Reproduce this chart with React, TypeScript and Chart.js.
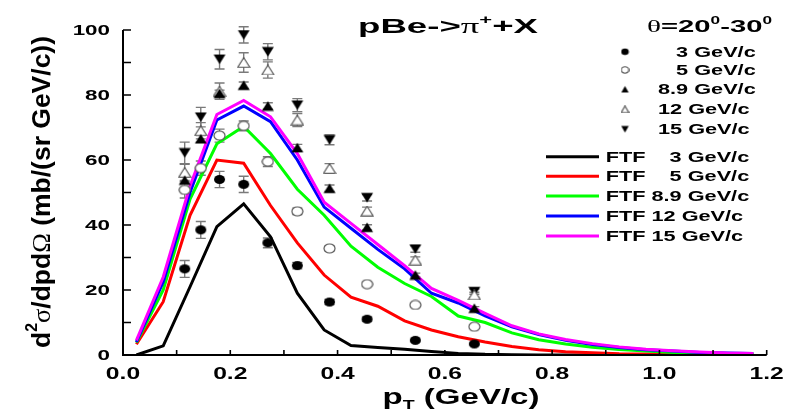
import React, { useEffect, useRef } from 'react';
import { Chart, registerables } from 'chart.js';

Chart.register(...registerables);

// Beam momenta (GeV/c)
const momenta = ['3', '5', '8.9', '12', '15'];

// Measured pT bin centres (GeV/c)
const ptData = [0.115, 0.145, 0.18, 0.225, 0.27, 0.325, 0.385, 0.455, 0.545, 0.655];

// Measured cross sections, mb/(sr GeV/c), with errors
const data3 = [26.5, 38.5, 54.0, 52.5, 34.5, 27.5, 16.3, 11.0, 4.5, 3.4];
const err3 = [2.6, 2.6, 2.5, 2.5, 1.5, 1.0, 0.8, 0.6, 0.4, 0.3];
const data5 = [50.8, 57.5, 67.5, 70.5, 59.5, 44.2, 32.8, 21.8, 15.4, 8.7];
const err5 = [2.5, 2.2, 2.0, 1.5, 1.5, 1.0, 0.8, 0.6, 0.5, 0.5];
const data89 = [53.8, 66.5, 80.5, 83.0, 76.6, 63.8, 51.3, 39.3, 24.6, 14.4];
const err89 = [1.0, 1.0, 1.0, 1.0, 1.0, 1.0, 1.0, 0.8, 0.6, 0.5];
const data12 = [56.2, 69.0, 81.2, 90.0, 87.7, 72.3, 57.4, 44.3, 29.2, 18.5];
const err12 = [2.5, 2.5, 2.5, 3.0, 2.5, 2.0, 1.5, 1.2, 1.0, 0.8];
const data15 = [62.2, 73.2, 91.0, 98.5, 93.3, 76.9, 66.2, 48.4, 32.6, 19.5];
const err15 = [3.3, 3.0, 3.0, 2.5, 2.5, 2.0, 1.5, 1.0, 1.0, 0.8];

// FTF model pT grid (GeV/c)
const ptModel = [
  0.025, 0.075, 0.125, 0.175, 0.225, 0.275, 0.325, 0.375, 0.425, 0.475, 0.525, 0.575,
  0.625, 0.675, 0.725, 0.775, 0.825, 0.875, 0.925, 0.975, 1.025, 1.075, 1.125, 1.175,
];
const ftf3 = [0, 2.8, 21, 39.5, 46.5, 36.4, 19, 7.7, 2.9, 2.3, 1.8, 1.1, 0.5, 0.2, 0.1, 0, 0, 0, 0, 0, 0, 0, 0, 0];
const ftf5 = [3.3, 16.4, 43, 60, 59, 46, 34.5, 24.6, 17.8, 15, 10.5, 7.7, 5.6, 4.0, 2.6, 1.6, 1.0, 0.7, 0.4, 0.3, 0.2, 0.1, 0.1, 0.1];
const ftf89 = [3.8, 20, 48, 65, 70.3, 62, 51, 43, 33.5, 27, 22, 18, 12, 10, 6.8, 4.7, 3.4, 2.4, 1.7, 1.2, 0.8, 0.6, 0.5, 0.4];
const ftf12 = [4, 22.5, 50, 72.3, 76.6, 71.8, 60, 45.5, 39, 32.5, 26.5, 19, 16, 12, 8.7, 6.3, 4.5, 3.2, 2.3, 1.6, 1.2, 0.8, 0.6, 0.5];
const ftf15 = [4.5, 24, 52, 74, 78.3, 73.3, 62, 47, 40.5, 34, 27.5, 20.5, 16.8, 12.8, 9, 6.5, 4.8, 3.5, 2.5, 1.8, 1.3, 0.9, 0.6, 0.5];

// Axis ticks
const xMajorTicks = [0, 0.2, 0.4, 0.6, 0.8, 1.0, 1.2];
const xMinorTicks = [0.1, 0.3, 0.5, 0.7, 0.9, 1.1];
const yMajorTicks = [0, 20, 40, 60, 80, 100];
const yMinorTicks = [10, 30, 50, 70, 90];

const measured = [data3, data5, data89, data12, data15];
const measuredErr = [err3, err5, err89, err12, err15];
const model = [ftf3, ftf5, ftf89, ftf12, ftf15];
const modelColors = ['#000000', '#ff0000', '#00ff00', '#0000ff', '#ff00ff'];
const markerKinds = ['dot', 'ring', 'up', 'upOpen', 'down'];

const SANS = '"Liberation Sans", Arial, sans-serif';
const SERIF = '"Liberation Serif", "DejaVu Serif", serif';
const bold = (px: number) => `bold ${px}px ${SANS}`;
const greek = (px: number) => `${px}px ${SERIF}`;

function makeMarker(kind: string, w: number, h: number): HTMLCanvasElement {
  const c = document.createElement('canvas');
  c.width = w + 2;
  c.height = h + 2;
  const g = c.getContext('2d')!;
  const cx = c.width / 2;
  const cy = c.height / 2;
  g.beginPath();
  if (kind === 'dot' || kind === 'ring') {
    g.ellipse(cx, cy, w / 2, h / 2, 0, 0, Math.PI * 2);
  } else if (kind === 'up' || kind === 'upOpen') {
    g.moveTo(cx, cy - h / 2);
    g.lineTo(cx + w / 2, cy + h / 2);
    g.lineTo(cx - w / 2, cy + h / 2);
    g.closePath();
  } else {
    g.moveTo(cx - w / 2, cy - h / 2);
    g.lineTo(cx + w / 2, cy - h / 2);
    g.lineTo(cx, cy + h / 2);
    g.closePath();
  }
  if (kind === 'ring' || kind === 'upOpen') {
    g.fillStyle = '#ffffff';
    g.fill();
    g.strokeStyle = '#555555';
    g.lineWidth = 1.2;
    g.stroke();
  } else {
    g.fillStyle = '#000000';
    g.fill();
  }
  return c;
}

type Run = { t: string; font: string; dy?: number };

function drawRich(
  ctx: CanvasRenderingContext2D,
  runs: Run[],
  x: number,
  y: number,
  opts: { align?: 'left' | 'center' | 'right'; sx?: number; sy?: number; width?: number; rotate?: boolean } = {}
) {
  let natural = 0;
  for (const r of runs) {
    ctx.font = r.font;
    natural += ctx.measureText(r.t).width;
  }
  const sx = opts.width ? opts.width / natural : opts.sx ?? 1;
  const sy = opts.sy ?? 1;
  const total = natural * sx;
  const align = opts.align ?? 'left';
  const start = align === 'left' ? 0 : align === 'center' ? -total / 2 : -total;
  ctx.save();
  ctx.translate(x, y);
  if (opts.rotate) ctx.rotate(-Math.PI / 2);
  ctx.scale(sx, sy);
  ctx.textAlign = 'left';
  ctx.textBaseline = 'alphabetic';
  ctx.fillStyle = '#000000';
  let cx = start / sx;
  for (const r of runs) {
    ctx.font = r.font;
    ctx.fillText(r.t, cx, r.dy ?? 0);
    cx += ctx.measureText(r.t).width;
  }
  ctx.restore();
}

const errorBars = {
  id: 'errorBars',
  beforeDatasetsDraw(chart: any) {
    const ctx = chart.ctx as CanvasRenderingContext2D;
    const xs = chart.scales.x;
    const ys = chart.scales.y;
    ctx.save();
    ctx.strokeStyle = '#7a7a7a';
    ctx.lineWidth = 1.4;
    measured.forEach((vals, s) => {
      vals.forEach((v, i) => {
        const e = measuredErr[s][i];
        const px = xs.getPixelForValue(ptData[i]);
        const top = ys.getPixelForValue(v + e);
        const bot = ys.getPixelForValue(v - e);
        ctx.beginPath();
        ctx.moveTo(px, top);
        ctx.lineTo(px, bot);
        ctx.moveTo(px - 5, top);
        ctx.lineTo(px + 5, top);
        ctx.moveTo(px - 5, bot);
        ctx.lineTo(px + 5, bot);
        ctx.stroke();
      });
    });
    ctx.restore();
  },
};

const frame = {
  id: 'frame',
  afterDraw(chart: any) {
    const ctx = chart.ctx as CanvasRenderingContext2D;
    const xs = chart.scales.x;
    const ys = chart.scales.y;
    const { left, right, top, bottom } = chart.chartArea;
    ctx.save();
    ctx.strokeStyle = '#000000';
    ctx.lineWidth = 2;
    ctx.beginPath();
    ctx.moveTo(left, top);
    ctx.lineTo(left, bottom);
    ctx.lineTo(right, bottom);
    ctx.stroke();
    ctx.lineWidth = 1.6;
    ctx.beginPath();
    for (const v of yMajorTicks.concat(yMinorTicks)) {
      const py = ys.getPixelForValue(v);
      ctx.moveTo(left, py);
      ctx.lineTo(left + 8, py);
    }
    for (const v of xMajorTicks.concat(xMinorTicks)) {
      const px = xs.getPixelForValue(v);
      ctx.moveTo(px, bottom);
      ctx.lineTo(px, bottom - 5);
    }
    ctx.stroke();

    // tick labels
    for (const v of yMajorTicks) {
      drawRich(ctx, [{ t: String(v), font: bold(14) }], left - 13, ys.getPixelForValue(v) + 5, { align: 'right', sx: 1.6 });
    }
    for (const v of xMajorTicks) {
      drawRich(ctx, [{ t: v.toFixed(1), font: bold(17) }], xs.getPixelForValue(v), bottom + 24, { align: 'center', sx: 1.45 });
    }

    // axis titles
    drawRich(
      ctx,
      [
        { t: 'p', font: bold(22) },
        { t: 'T', font: bold(13), dy: 5 },
        { t: ' (GeV/c)', font: bold(22) },
      ],
      461,
      404,
      { align: 'center', width: 157 }
    );
    drawRich(
      ctx,
      [
        { t: 'd', font: bold(20) },
        { t: '2', font: bold(12), dy: -10 },
        { t: 'σ', font: greek(20) },
        { t: '/dpd', font: bold(20) },
        { t: 'Ω', font: greek(20) },
        { t: ' (mb/(sr GeV/c))', font: bold(20) },
      ],
      50,
      192,
      { align: 'center', width: 312, sy: 1.3, rotate: true }
    );

    // reaction and angle labels
    drawRich(
      ctx,
      [
        { t: 'pBe->', font: bold(20) },
        { t: 'π', font: greek(20) },
        { t: '+', font: bold(12), dy: -9 },
        { t: '+X', font: bold(20) },
      ],
      358,
      33,
      { width: 180 }
    );
    drawRich(
      ctx,
      [
        { t: 'θ', font: greek(17) },
        { t: '=20', font: bold(17) },
        { t: '0', font: bold(10), dy: -8 },
        { t: '-30', font: bold(17) },
        { t: '0', font: bold(10), dy: -8 },
      ],
      647,
      32,
      { width: 125 }
    );

    // marker legend
    const markerRows = [51.7, 70, 89.3, 109.3, 129.3];
    momenta.forEach((p, i) => {
      const img = legendMarkers[i];
      ctx.drawImage(img, 625 - img.width / 2, markerRows[i] - img.height / 2);
      const label = (p.length === 1 ? '   ' : '') + p + ' GeV/c';
      drawRich(ctx, [{ t: label, font: bold(14) }], 658, markerRows[i] + 5, { sx: 1.55 });
    });

    // model legend
    const lineRows = [156.7, 176.3, 196, 216, 236];
    momenta.forEach((p, i) => {
      ctx.strokeStyle = modelColors[i];
      ctx.lineWidth = 3;
      ctx.beginPath();
      ctx.moveTo(546, lineRows[i]);
      ctx.lineTo(599, lineRows[i]);
      ctx.stroke();
      const label = 'FTF ' + (p.length === 1 ? '   ' : '') + p + ' GeV/c';
      drawRich(ctx, [{ t: label, font: bold(14) }], 605.7, lineRows[i] + 5, { sx: 1.55 });
    });
    ctx.restore();
  },
};

const plotMarkers = markerKinds.map((k) =>
  k === 'dot' || k === 'ring' ? makeMarker(k, 11, 9) : makeMarker(k, 12, 9.5)
);
const legendMarkers = markerKinds.map((k) => makeMarker(k, 7.5, 6.5));

export default function App() {
  const ref = useRef<HTMLCanvasElement>(null);

  useEffect(() => {
    document.body.style.margin = '0';
    const canvas = ref.current!;
    const pointSets = measured.map((vals, s) => ({
      label: momenta[s] + ' GeV/c',
      data: vals.map((v, i) => ({ x: ptData[i], y: v })),
      pointStyle: plotMarkers[s],
      showLine: false,
      order: 0,
    }));
    const lineSets = model.map((vals, s) => ({
      label: 'FTF ' + momenta[s] + ' GeV/c',
      data: vals.map((v, i) => ({ x: ptModel[i], y: v })),
      showLine: true,
      borderColor: modelColors[s],
      borderWidth: 3,
      pointRadius: 0,
      tension: 0,
      order: 5 - s,
    }));
    const chart = new Chart(canvas, {
      type: 'scatter',
      data: { datasets: [...pointSets, ...lineSets] as any },
      options: {
        animation: false,
        responsive: false,
        devicePixelRatio: 1,
        layout: { padding: { left: 123, right: 21.3, top: 30, bottom: 57 } },
        scales: {
          x: { type: 'linear', min: 0, max: 1.2, display: false },
          y: { type: 'linear', min: 0, max: 100, display: false },
        },
        plugins: { legend: { display: false }, tooltip: { enabled: false } },
      },
      plugins: [errorBars, frame],
    });
    return () => chart.destroy();
  }, []);

  return (
    <div style={{ width: 788, height: 412, background: '#ffffff' }}>
      <canvas ref={ref} width={788} height={412} />
    </div>
  );
}
